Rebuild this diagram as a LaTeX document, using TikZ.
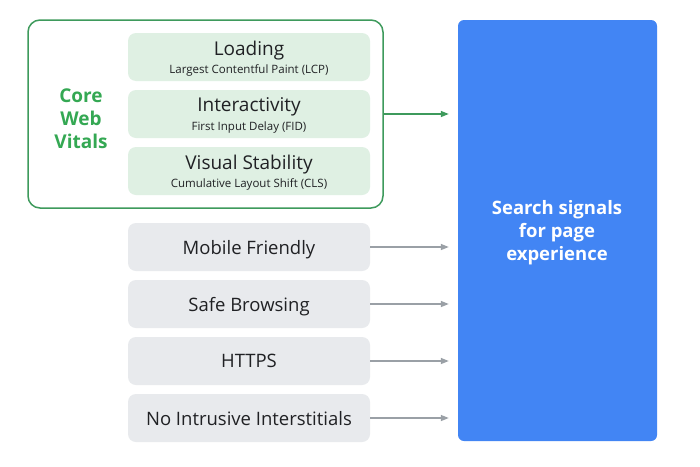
\documentclass[tikz,border=0pt]{standalone}
\usepackage{fontspec}
\setmainfont{Open Sans}
\usetikzlibrary{arrows.meta}
\definecolor{gborder}{HTML}{3E9A5C}
\definecolor{gfill}{HTML}{DFF0E3}
\definecolor{gtext}{HTML}{34A853}
\definecolor{grayfill}{HTML}{E8EAED}
\definecolor{darktext}{HTML}{202124}
\definecolor{grayarrow}{HTML}{9AA0A6}
\definecolor{gblue}{HTML}{4285F4}
\tikzset{
  metricbox/.style={rectangle, rounded corners=8pt, fill=gfill, minimum width=242pt, minimum height=48pt, inner sep=0pt, align=center, text=darktext, text depth=0pt},
  signalbox/.style={rectangle, rounded corners=8pt, fill=grayfill, minimum width=242pt, minimum height=48pt, inner sep=0pt, align=center, text=darktext, text depth=0pt, font=\fontsize{18.5}{22}\selectfont},
  grayarrow/.style={draw=grayarrow, line width=1.3pt, -{Triangle[length=8pt,width=6pt]}, shorten >=9pt},
  greenarrow/.style={draw=gborder, line width=1.3pt, -{Triangle[length=8pt,width=6pt]}, shorten >=9pt},
}
\newcommand{\mtitle}[1]{{\fontsize{19}{20}\selectfont #1}}
\newcommand{\msub}[1]{{\fontsize{11.5}{13}\selectfont #1}}
\begin{document}
\begin{tikzpicture}[x=1pt,y=-1pt]
\useasboundingbox (0,0) rectangle (700,466);
\fill[white] (0,0) rectangle (700,466);
% Core Web Vitals group
\node[rectangle, rounded corners=12pt, draw=gborder, line width=1.5pt, minimum width=355pt, minimum height=188pt, inner sep=0pt] (cwv) at (205.5,114) {};
\node[font=\fontsize{19}{23}\selectfont\bfseries, text=gtext, align=center] (cwvlabel) at (81,119) {Core\\Web\\Vitals};
\node[metricbox] (lcp) at (249,57) {\mtitle{Loading}\\[4pt]\msub{Largest Contentful Paint (LCP)}};
\node[metricbox] (fid) at (249,114) {\mtitle{Interactivity}\\[4pt]\msub{First Input Delay (FID)}};
\node[metricbox] (cls) at (249,171) {\mtitle{Visual Stability}\\[4pt]\msub{Cumulative Layout Shift (CLS)}};
% other signals
\node[signalbox] (mf) at (249,247) {Mobile Friendly};
\node[signalbox] (sb) at (249,304) {Safe Browsing};
\node[signalbox] (https) at (249,361) {HTTPS};
\node[signalbox] (nii) at (249,418) {No Intrusive Interstitials};
% blue target
\node[rectangle, rounded corners=6pt, fill=gblue, minimum width=199pt, minimum height=421pt, inner sep=0pt] (search) at (557.5,230.5) {};
\node[text=white, align=center, font=\fontsize{18.5}{23}\selectfont\bfseries] (searchlabel) at (557,233) {Search signals\\for page\\experience};
% arrows
\draw[greenarrow] (cwv.east) -- (search.west |- cwv.east);
\draw[grayarrow] (mf.east) -- (search.west |- mf.east);
\draw[grayarrow] (sb.east) -- (search.west |- sb.east);
\draw[grayarrow] (https.east) -- (search.west |- https.east);
\draw[grayarrow] (nii.east) -- (search.west |- nii.east);
\end{tikzpicture}
\end{document}
